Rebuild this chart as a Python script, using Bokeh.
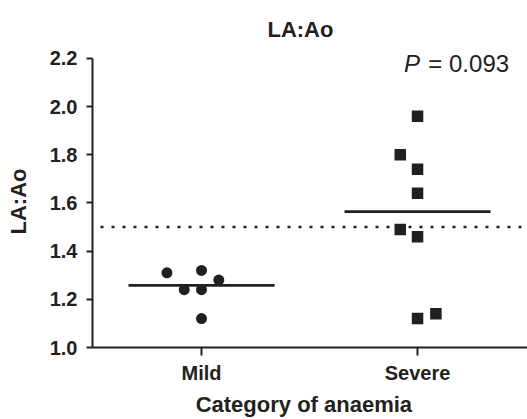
from bokeh.plotting import figure
from bokeh.models import Span, Label, FixedTicker, ColumnDataSource
from bokeh.embed import file_html
from bokeh.resources import INLINE

# ---- data ----
categories = ["Mild", "Severe"]
mild_values = [1.31, 1.32, 1.28, 1.24, 1.24, 1.12]
mild_jitter = [-0.16, 0.0, 0.08, -0.08, 0.0, 0.0]
severe_values = [1.96, 1.80, 1.74, 1.64, 1.49, 1.46, 1.12, 1.14]
severe_jitter = [0.0, -0.08, 0.0, 0.0, -0.08, 0.0, 0.0, 0.085]
group_means = [1.258, 1.564]
reference_level = 1.5
y_ticks = [1.0, 1.2, 1.4, 1.6, 1.8, 2.0, 2.2]
title_text = "LA:Ao"
y_label_text = "LA:Ao"
x_label_text = "Category of anaemia"
p_text = "P"
p_value_text = "= 0.093"

INK = "#231f20"
FONT = "Liberation Sans"
NBSP = "\u00a0"

p = figure(width=527, height=419, output_backend="svg", toolbar_location=None,
           x_range=(-0.5046, 1.509), y_range=(1.0, 2.44),
           min_border_left=92, min_border_right=0, min_border_top=0, min_border_bottom=71)
p.outline_line_color = None
p.xgrid.visible = False
p.ygrid.visible = False
p.background_fill_color = "white"
p.border_fill_color = "white"

mild_src = ColumnDataSource(dict(x=[0 + j for j in mild_jitter], y=mild_values))
sev_src = ColumnDataSource(dict(x=[1 + j for j in severe_jitter], y=severe_values))

p.add_layout(Span(location=reference_level, dimension="width", line_color=INK,
                  line_width=2.5, line_dash="3 8", line_dash_offset=3))

half = 0.338
idx = list(range(len(categories)))
p.segment(x0=[i - half for i in idx], x1=[i + half for i in idx],
          y0=group_means, y1=group_means, line_color=INK, line_width=2.7)

p.scatter("x", "y", source=mild_src, marker="circle", size=11,
          fill_color=INK, line_color=INK, line_width=0)
p.scatter("x", "y", source=sev_src, marker="square", size=11.5,
          fill_color=INK, line_color=INK, line_width=0)

# axes
for ax in (p.xaxis[0], p.yaxis[0]):
    ax.axis_line_color = INK
    ax.axis_line_width = 2
    ax.major_tick_line_color = INK
    ax.major_tick_line_width = 2
    ax.minor_tick_line_color = None
    ax.major_tick_in = 0
    ax.major_label_text_font = FONT
    ax.major_label_text_font_style = "bold"
    ax.major_label_text_font_size = "20px"
    ax.major_label_text_color = INK
    ax.axis_label_text_font = FONT
    ax.axis_label_text_font_style = "bold"
    ax.axis_label_text_font_size = "22px"
    ax.axis_label_text_color = INK

p.xaxis.ticker = FixedTicker(ticks=idx)
p.xaxis.major_label_overrides = {i: c for i, c in zip(idx, categories)}
p.xaxis.major_tick_out = 8
p.xaxis.major_label_standoff = 6
# trailing no-break spaces shift the centred label to where the reference has it
p.xaxis.axis_label = x_label_text + NBSP * 2
p.xaxis.axis_label_standoff = 5

p.yaxis.ticker = FixedTicker(ticks=y_ticks)
p.yaxis.bounds = (y_ticks[0], y_ticks[-1])
p.yaxis.major_label_overrides = {t: f"{t:.1f}" for t in y_ticks}
p.yaxis.major_tick_out = 6
p.yaxis.major_label_standoff = 9
p.yaxis.axis_label = y_label_text + NBSP * 9
p.yaxis.axis_label_standoff = 16

# title and P value
p.add_layout(Label(x=0.458, y=2.318, text=title_text, text_align="center",
                   text_baseline="alphabetic", text_font=FONT, text_font_style="bold",
                   text_font_size="22px", text_color=INK))
p.add_layout(Label(x=0.937, y=2.179, text=p_text, text_align="left",
                   text_baseline="alphabetic", text_font=FONT, text_font_style="italic",
                   text_font_size="24px", text_color=INK))
p.add_layout(Label(x=1.050, y=2.179, text=p_value_text, text_align="left",
                   text_baseline="alphabetic", text_font=FONT,
                   text_font_size="24px", text_color=INK))

open("out.html", "w").write(file_html(p, INLINE))
